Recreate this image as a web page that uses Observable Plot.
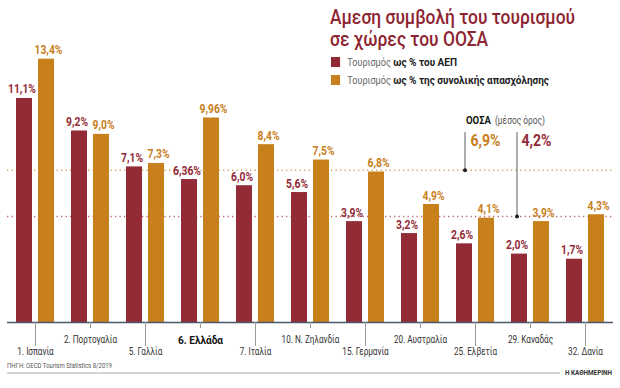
<!DOCTYPE html>
<html><head><meta charset="utf-8">
<script src="https://cdn.jsdelivr.net/npm/d3@7"></script>
<script src="https://cdn.jsdelivr.net/npm/@observablehq/plot@0.6"></script>
<style>
body{margin:0;background:#fff}
#wrap{position:relative;width:620px;height:388px;overflow:hidden;font-family:Roboto,"Liberation Sans",sans-serif}
#wrap svg{position:absolute;left:0;top:0}
.ov{position:absolute;z-index:2;white-space:nowrap;transform-origin:0 0}
.title{left:330px;font-size:20px;line-height:19px;color:#8d2431;font-weight:500}
.leg{left:331px;font-size:11px;color:#222;line-height:12px}
.leg i{display:inline-block;width:10px;height:10px;vertical-align:-1px;margin-right:8px}
.leg .l{color:#666;font-size:10px}
.leg b{font-weight:bold}
.src{left:7px;top:361px;font-size:7.5px;color:#555}
.rule{left:7px;top:372px;width:553px;height:2px;background:#d4d4d4}
.brand{left:565px;top:369px;font-size:7px;font-weight:bold;color:#333}
</style></head><body>
<div id="wrap">
<div class="ov title" id="title1" style="top:7.5px">Αμεση συμβολή του τουρισμού</div>
<div class="ov title" id="title2" style="top:29.5px">σε χώρες του ΟΟΣΑ</div>
<div class="ov leg" id="leg1" style="top:57px"><i style="background:#932b37"></i><span class="l">Τουρισμός</span> <b>ως % του ΑΕΠ</b></div>
<div class="ov leg" id="leg2" style="top:75px"><i style="background:#c8801c"></i><span class="l">Τουρισμός</span> <b>ως % της συνολικής απασχόλησης</b></div>
<div class="ov src" id="src">ΠΗΓΗ: OECD Tourism Statistics 8/2019</div>
<div class="ov rule"></div>
<div class="ov brand" id="brand">Η ΚΑΘΗΜΕΡΙΝΗ</div>
</div>
<script>
const countries = ["1. Ισπανία","2. Πορτογαλία","5. Γαλλία","6. Ελλάδα","7. Ιταλία","10. Ν. Ζηλανδία","15. Γερμανία","20. Αυστραλία","25. Ελβετία","29. Καναδάς","32. Δανία"];
const gdpShare = [11.1, 9.2, 7.1, 6.36, 6.0, 5.6, 3.9, 3.2, 2.6, 2.0, 1.7];
const empShare = [13.4, 9.0, 7.3, 9.96, 8.4, 7.5, 6.8, 4.9, 4.1, 3.9, 4.3];
const gdpLabels = ["11,1%","9,2%","7,1%","6,36%","6,0%","5,6%","3,9%","3,2%","2,6%","2,0%","1,7%"];
const empLabels = ["13,4%","9,0%","7,3%","9,96%","8,4%","7,5%","6,8%","4,9%","4,1%","3,9%","4,3%"];
const oecdGdp = 4.2, oecdEmp = 6.9;
const oecdGdpLabel = "4,2%", oecdEmpLabel = "6,9%";
const highlight = "6. Ελλάδα";

const RED = "#932b37", ORANGE = "#c8801c";
const base = -2;        // visual baseline of the bars
const annoTop = 9.1;    // top of the OECD leader lines
const rows = countries.map((c, i) => ({country: c, gdp: gdpShare[i], emp: empShare[i], gl: gdpLabels[i], el: empLabels[i]}));
const row1 = countries.filter((c, i) => i % 2 === 1 && c !== highlight);
const row2 = countries.filter((c, i) => i % 2 === 0);
const font = 'Roboto,"Liberation Sans",sans-serif';

const chart = Plot.plot({
  width: 620, height: 388,
  marginLeft: 15, marginRight: 15, marginTop: 0, marginBottom: 66,
  style: {fontFamily: font, background: "transparent", overflow: "visible"},
  x: {domain: countries, paddingInner: 0.31, paddingOuter: 0, axis: null},
  y: {domain: [base, 14], range: [322, 48.4], axis: null},
  marks: [
    Plot.ruleY([oecdEmp], {stroke: "#d8a35c", strokeWidth: 1.4, strokeDasharray: "1.3,3.2", insetLeft: -8, insetRight: -8}),
    Plot.ruleY([oecdGdp], {stroke: "#c26571", strokeWidth: 1.4, strokeDasharray: "1.3,3.2", insetLeft: -8, insetRight: -8}),
    Plot.barY(rows, {x: "country", y1: base, y2: "gdp", fill: RED, insetRight: 22}),
    Plot.barY(rows, {x: "country", y1: base, y2: "emp", fill: ORANGE, insetLeft: 22}),
    Plot.text(rows, {x: "country", y: "gdp", text: "gl", dx: -13.5, dy: -5, lineAnchor: "bottom", fill: RED, fontWeight: "bold", fontSize: 13.5, className: "vlab"}),
    Plot.text(rows, {x: "country", y: "emp", text: "el", dx: 13, dy: -5, lineAnchor: "bottom", fill: ORANGE, fontWeight: "bold", fontSize: 13.5, className: "vlab"}),
    // OECD annotation
    Plot.ruleX(["25. Ελβετία"], {y1: annoTop, y2: oecdEmp, dx: -10.5, stroke: "#333", strokeWidth: 0.8}),
    Plot.dot(["25. Ελβετία"], {x: d => d, y: oecdEmp, dx: -10.5, r: 2, fill: "#222"}),
    Plot.ruleX(["29. Καναδάς"], {y1: annoTop, y2: oecdGdp, dx: -13.5, stroke: "#333", strokeWidth: 0.8}),
    Plot.dot(["29. Καναδάς"], {x: d => d, y: oecdGdp, dx: -13.5, r: 2, fill: "#222"}),
    Plot.text([oecdEmpLabel], {x: () => "25. Ελβετία", y: annoTop, dx: -5, dy: 1, textAnchor: "start", lineAnchor: "top", fill: ORANGE, fontWeight: "bold", fontSize: 17, className: "alab"}),
    Plot.text([oecdGdpLabel], {x: () => "29. Καναδάς", y: annoTop, dx: -9, dy: 1, textAnchor: "start", lineAnchor: "top", fill: RED, fontWeight: "bold", fontSize: 17, className: "alab"}),
    Plot.text(["ΟΟΣΑ"], {x: () => "25. Ελβετία", y: annoTop, dx: -9.5, dy: -9, textAnchor: "start", lineAnchor: "bottom", fill: "#111", fontWeight: "bold", fontSize: 11.5, className: "oecd"}),
    Plot.text(["(μέσος όρος)"], {x: () => "25. Ελβετία", y: annoTop, dx: 19.5, dy: -9, textAnchor: "start", lineAnchor: "bottom", fill: "#555", fontSize: 11, className: "avg"}),
    // axis
    Plot.ruleY([base], {stroke: "#4a5868", strokeWidth: 1.6, insetLeft: -8, insetRight: -8}),
    Plot.axisX(row2, {tickSize: 24, tickPadding: 1, stroke: "#9a9a9a", fill: "#333", fontSize: 10.5, fontFamily: font, label: null, className: "ax"}),
    Plot.axisX(row1, {tickSize: 6, tickPadding: 7, stroke: "#9a9a9a", fill: "#333", fontSize: 10.5, fontFamily: font, label: null, className: "ax"}),
    Plot.axisX([highlight], {tickSize: 6, tickPadding: 7, stroke: "#9a9a9a", fill: "#111", fontSize: 11.5, fontWeight: "bold", fontFamily: font, label: null, className: "axb"})
  ]
});
document.getElementById("wrap").prepend(chart);

// condense text to match the narrow typeface of the original
function condenseTo(nodes, refText, refWidth) {
  nodes = Array.from(nodes);
  const ref = nodes.find(t => t.textContent === refText) || nodes[0];
  if (!ref) return;
  const f = refWidth / ref.getComputedTextLength();
  nodes.forEach(t => {
    const w = t.getComputedTextLength();
    t.setAttribute("textLength", (w * f).toFixed(2));
    t.setAttribute("lengthAdjust", "spacingAndGlyphs");
  });
}
const q = s => chart.querySelectorAll(s);
condenseTo(q(".vlab text"), "13,4%", 28);
condenseTo(q(".alab text"), "6,9%", 30);
condenseTo(q(".oecd text"), "ΟΟΣΑ", 25);
condenseTo(q(".avg text"), "(μέσος όρος)", 50);
condenseTo(q(".ax text"), "2. Πορτογαλία", 53);
condenseTo(q(".axb text"), "6. Ελλάδα", 45);

function fitWidth(id, target) {
  const el = document.getElementById(id);
  const w = el.getBoundingClientRect().width;
  const s = target / w;
  el.style.transform = `scaleX(${s})`;
  return s;
}
const ts = fitWidth("title1", 245);
document.getElementById("title2").style.transform = `scaleX(${ts})`;
const ls = fitWidth("leg2", 218);
document.getElementById("leg1").style.transform = `scaleX(${ls})`;
fitWidth("src", 105);
fitWidth("brand", 47);
</script>
</body></html>
